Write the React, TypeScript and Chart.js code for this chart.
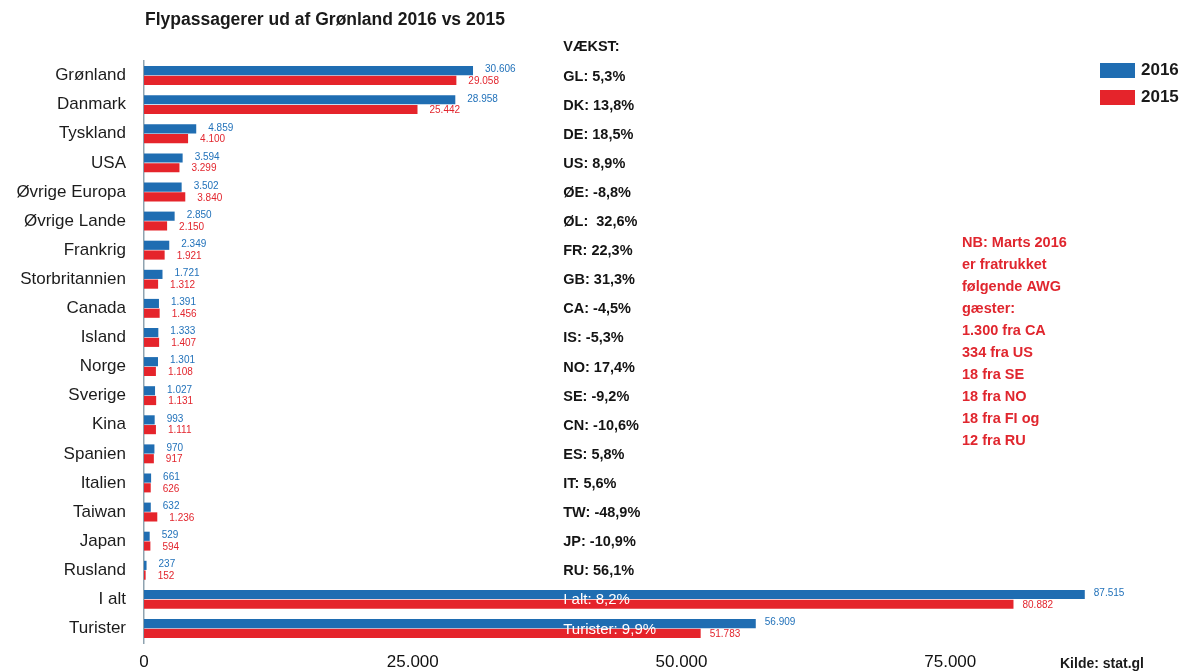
import React, { useEffect, useRef } from "react";
import { Chart, registerables } from "chart.js";

Chart.register(...registerables);

const titleText = "Flypassagerer ud af Grønland 2016 vs 2015";
const categories = [
  "Grønland", "Danmark", "Tyskland", "USA", "Øvrige Europa", "Øvrige Lande",
  "Frankrig", "Storbritannien", "Canada", "Island", "Norge", "Sverige", "Kina",
  "Spanien", "Italien", "Taiwan", "Japan", "Rusland", "I alt", "Turister",
];
const values2016 = [30606, 28958, 4859, 3594, 3502, 2850, 2349, 1721, 1391, 1333, 1301, 1027, 993, 970, 661, 632, 529, 237, 87515, 56909];
const values2015 = [29058, 25442, 4100, 3299, 3840, 2150, 1921, 1312, 1456, 1407, 1108, 1131, 1111, 917, 626, 1236, 594, 152, 80882, 51783];
const growthLabels = [
  "GL: 5,3%", "DK: 13,8%", "DE: 18,5%", "US: 8,9%", "ØE: -8,8%", "ØL:  32,6%",
  "FR: 22,3%", "GB: 31,3%", "CA: -4,5%", "IS: -5,3%", "NO: 17,4%", "SE: -9,2%",
  "CN: -10,6%", "ES: 5,8%", "IT: 5,6%", "TW: -48,9%", "JP: -10,9%", "RU: 56,1%",
  "I alt: 8,2%", "Turister: 9,9%",
];
const growthHeader = "VÆKST:";
const xTicks = [0, 25000, 50000, 75000];
const noteLines = [
  "NB: Marts 2016", "er fratrukket", "følgende AWG", "gæster:", "1.300 fra CA",
  "334 fra US", "18 fra SE", "18 fra NO", "18 fra FI og", "12 fra RU",
];
const sourceText = "Kilde: stat.gl";

const BLUE = "#1f6db2";
const RED = "#e5242b";
const FONT = "'Liberation Sans', Arial, Helvetica, sans-serif";

function fmt(v: number): string {
  const s = Math.round(v).toString();
  return s.replace(/\B(?=(\d{3})+(?!\d))/g, ".");
}

const overlayPlugin = {
  id: "overlay",
  afterDatasetsDraw(chart: any) {
    const ctx = chart.ctx;
    const xs = chart.scales.x;
    const ys = chart.scales.y;
    const area = chart.chartArea;
    ctx.save();
    chart.data.datasets.forEach((ds: any, di: number) => {
      const meta = chart.getDatasetMeta(di);
      ctx.font = `10px ${FONT}`;
      ctx.fillStyle = di === 0 ? "#2272ba" : "#e2262e";
      ctx.textAlign = "left";
      ctx.textBaseline = "middle";
      meta.data.forEach((el: any, i: number) => {
        const off = i >= 18 ? 9 : 12;
        ctx.fillText(fmt(ds.data[i]), el.x + off, el.y + (di === 0 ? -1 : 1));
      });
    });
    const gx = xs.getPixelForValue(39000);
    ctx.textAlign = "left";
    ctx.textBaseline = "middle";
    ctx.fillStyle = "#141414";
    ctx.font = `bold 14.5px ${FONT}`;
    ctx.fillText(growthHeader, gx, area.top - 14);
    growthLabels.forEach((t, i) => {
      const y = ys.getPixelForValue(i);
      if (i >= 18) {
        ctx.font = `15px ${FONT}`;
        ctx.fillStyle = "#ffffff";
      } else {
        ctx.font = `bold 14.5px ${FONT}`;
        ctx.fillStyle = "#141414";
      }
      ctx.fillText(t, gx, y + 1);
    });
    ctx.restore();
  },
  afterDraw(chart: any) {
    const ctx = chart.ctx;
    const area = chart.chartArea;
    ctx.save();
    ctx.textBaseline = "middle";
    ctx.textAlign = "left";
    ctx.fillStyle = "#1a1a1a";
    ctx.font = `bold 17.5px ${FONT}`;
    ctx.fillText(titleText, area.left + 1, 20);
    chart.data.datasets.forEach((ds: any, i: number) => {
      const y = 70 + i * 27;
      ctx.fillStyle = ds.backgroundColor;
      ctx.fillRect(1100, y - 7, 35, 15);
      ctx.fillStyle = "#1a1a1a";
      ctx.font = `bold 17px ${FONT}`;
      ctx.fillText(ds.label, 1141, y);
    });
    ctx.fillStyle = "#e0262e";
    ctx.font = `bold 14.5px ${FONT}`;
    noteLines.forEach((t, i) => {
      ctx.fillText(t, 962, 243 + i * 22);
    });
    ctx.fillStyle = "#1a1a1a";
    ctx.font = `bold 14px ${FONT}`;
    ctx.fillText(sourceText, 1060, 664);
    ctx.restore();
  },
};

export default function App() {
  const ref = useRef<HTMLCanvasElement | null>(null);
  useEffect(() => {
    document.body.style.margin = "0";
    const canvas = ref.current;
    if (!canvas) return;
    const chart = new Chart(canvas, {
      type: "bar",
      data: {
        labels: categories,
        datasets: [
          { label: "2016", data: values2016, backgroundColor: BLUE, borderWidth: 0, barPercentage: 0.94, categoryPercentage: 0.67 },
          { label: "2015", data: values2015, backgroundColor: RED, borderWidth: 0, barPercentage: 0.94, categoryPercentage: 0.67 },
        ],
      },
      options: {
        indexAxis: "y",
        animation: false,
        responsive: false,
        devicePixelRatio: 1,
        layout: { padding: { top: 61, right: 8, bottom: 0, left: 0 } },
        plugins: {
          legend: { display: false },
          title: { display: false },
          tooltip: { enabled: false },
        },
        scales: {
          x: {
            type: "linear",
            min: 0,
            max: 96000,
            afterBuildTicks: (s: any) => {
              s.ticks = xTicks.map((v) => ({ value: v }));
            },
            afterFit: (s: any) => {
              s.height = 29;
            },
            ticks: {
              callback: (v: any) => fmt(Number(v)),
              font: { size: 17, family: FONT },
              color: "#111111",
              padding: 9,
              maxRotation: 0,
            },
            grid: { display: false, drawTicks: false },
            border: { display: false },
          },
          y: {
            afterFit: (s: any) => {
              s.width = 144;
            },
            ticks: {
              font: { size: 17, family: FONT },
              color: "#1c1c1c",
              padding: 18,
              autoSkip: false,
            },
            grid: { display: false, drawTicks: false },
            border: { display: true, color: "#8fa3b0", width: 1.5, dash: [2, 1] },
          },
        },
      } as any,
      plugins: [overlayPlugin],
    });
    return () => chart.destroy();
  }, []);
  return (
    <div style={{ width: 1184, height: 672, background: "#ffffff" }}>
      <canvas ref={ref} width={1184} height={672} style={{ display: "block" }} />
    </div>
  );
}
